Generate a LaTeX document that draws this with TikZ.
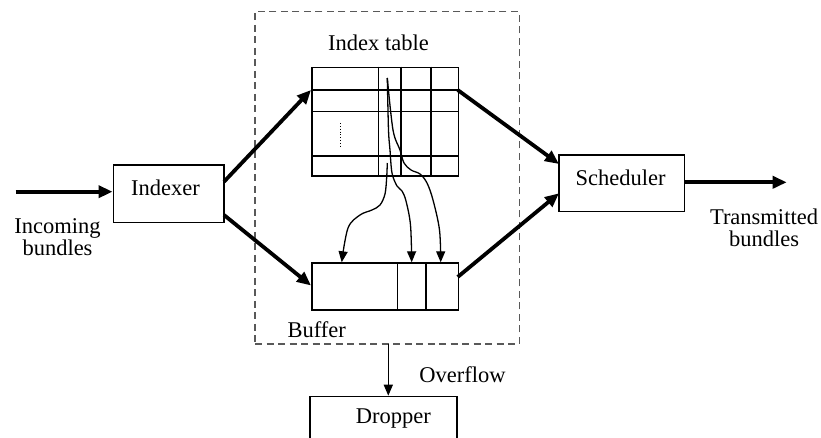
\documentclass[tikz,border=0pt]{standalone}
\usepackage{fontspec}
\setmainfont{Liberation Serif}
\usetikzlibrary{arrows.meta}
\begin{document}
\begin{tikzpicture}[x=1pt,y=-1pt,
  font=\fontsize{22.5}{26}\selectfont,
  frame/.style={draw, line width=1.6pt, inner sep=0pt, fill=white},
  caption/.style={inner sep=0pt, align=center},
  flow/.style={line width=3.8pt, -{Triangle[length=14pt,width=12pt]}},
  pointer/.style={line width=1.3pt, -{Triangle[length=11pt,width=9pt]}},
  gridline/.style={line width=1.6pt},
  enclosure/.style={draw=black!65, line width=1.4pt, dash pattern=on 7pt off 4.5pt, inner sep=0pt}
]
\useasboundingbox (0,0) rectangle (821,438);
\clip (0,0) rectangle (821,438);

% dashed enclosure around table and buffer
\node[enclosure, minimum width=264.3pt, minimum height=332.3pt] (core) at (387.15,177.85) {};

% processing boxes
\node[frame, minimum width=110.7pt, minimum height=57.7pt] (indexer) at (168.7,193.8) {};
\node[caption] (indexer-text) at (165.5,187.7) {Indexer};
\node[frame, minimum width=125.3pt, minimum height=56.7pt] (scheduler) at (621.7,183.3) {};
\node[caption] (scheduler-text) at (620.5,178.3) {Scheduler};
\node[frame, minimum width=146.7pt, minimum height=70pt, anchor=north] (dropper) at (383.35,395.7) {};
\node[caption] (dropper-text) at (393.3,418.3) {Dropper};

% index table grid
\node[frame, minimum width=146.7pt, minimum height=108.3pt, anchor=north west] (table) at (311,66.7) {};
\foreach \y in {90,111.7,156} \draw[gridline] (311,\y) -- (457.7,\y);
\foreach \x in {378.3,401,431} \draw[gridline] (\x,66.7) -- (\x,175);
\draw[line width=1pt, dash pattern=on 1pt off 1.8pt] (340.3,123.3) -- (340.3,146);
\node[caption] (table-text) at (378.5,42.7) {Index table};

% buffer cells
\node[frame, minimum width=146.7pt, minimum height=46.7pt, anchor=north west] (buffer) at (311,262.3) {};
\foreach \x in {397.3,426} \draw[gridline] (\x,262.3) -- (\x,309);
\node[caption] (buffer-text) at (316.7,329.3) {Buffer};

% connection points
\coordinate (in-start) at (15.7,191.7);
\coordinate (out-end) at (786.7,182.3);
\coordinate (table-in) at (311,90);
\coordinate (table-out) at (457.7,90);
\coordinate (buffer-in) at (311,285.5);
\coordinate (buffer-out) at (457.7,277);
\coordinate (idx-up) at (224,181.7);
\coordinate (idx-down) at (224,215);
\coordinate (sch-up) at (559,164);
\coordinate (sch-down) at (559,193.3);
\coordinate (ptr-top) at (387.3,78);
\coordinate (ptr-low) at (387.3,163);
\coordinate (cell-a) at (341.7,262.3);
\coordinate (cell-b) at (411.7,262.3);
\coordinate (cell-c) at (440.7,262.3);
\coordinate (ovf) at (388.3,344);

% main flow
\draw[flow] (in-start) -- (indexer.west |- in-start);
\draw[flow] (idx-up) -- (table-in);
\draw[flow] (idx-down) -- (buffer-in);
\draw[flow] (table-out) -- (sch-up);
\draw[flow] (buffer-out) -- (sch-down);
\draw[flow] (scheduler.east |- out-end) -- (out-end);
\draw[line width=1.4pt, -{Triangle[length=11pt,width=9pt]}] (ovf) -- (ovf |- dropper.north);

% pointers from the index table into the buffer
\draw[pointer] plot[smooth, tension=0.55] coordinates {(ptr-top) (393,130) (400,150) (404,163) (411,170) (420,174) (427,183) (433,200) (439.5,230) (cell-c)};
\draw[pointer] plot[smooth, tension=0.55] coordinates {(ptr-top) (388.5,130) (390,150) (392,173) (397,186) (402,191) (406,201) (410.5,225) (cell-b)};
\draw[pointer] plot[smooth, tension=0.55] coordinates {(ptr-low) (386.7,177) (385,194) (380,205) (372,210) (360,215) (348,228) (cell-a)};

% outer labels
\node[caption] (incoming) at (57.5,237) {Incoming\\[-4pt]bundles};
\node[caption] (transmitted) at (764,228) {Transmitted\\[-4pt]bundles};
\node[caption] (overflow) at (462.5,375) {Overflow};
\end{tikzpicture}
\end{document}
